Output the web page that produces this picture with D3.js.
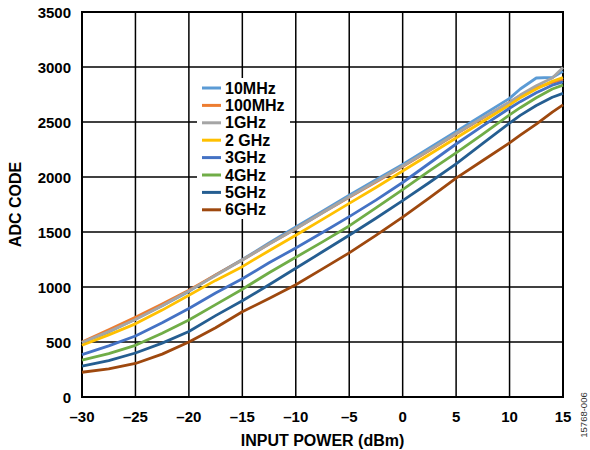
<!DOCTYPE html>
<html lang="en">
<head>
<meta charset="UTF-8">
<title>ADC code vs input power</title>
<style>
body { margin: 0; background: #fff; }
text { font-family: 'Liberation Sans', Arial, sans-serif; }
.tick-label { font-size: 15px; font-weight: 700; fill: #000; }
.axis-title { font-size: 16px; font-weight: 700; fill: #000; }
.legend-label { font-size: 16px; font-weight: 700; fill: #000; }
</style>
</head>
<body>
<div id="vis"></div>
<script src="https://d3js.org/d3.v7.min.js"></script>
<script>
const width = 590;
const height = 450;
const margin = {left: 82, right: 27, top: 12, bottom: 53};

// input power (dBm), shared by every series
const power = [-30, -27.5, -25, -22.5, -20, -17.5, -15, -12.5, -10, -7.5, -5, -2.5, 0, 2.5, 5, 7.5, 10, 11, 12.5, 14, 15];

const names = ["10MHz", "100MHz", "1GHz", "2 GHz", "3GHz", "4GHz", "5GHz", "6GHz"];
const colors = ["#5b9bd5", "#ed7d31", "#a5a5a5", "#ffc000", "#4472c4", "#70ad47", "#255e91", "#9e480e"];

const f10MHz  = [495, 590, 710, 830, 960, 1110, 1250, 1400, 1545, 1690, 1835, 1975, 2115, 2265, 2415, 2565, 2715, 2800, 2900, 2905, 2960];
const f100MHz = [500, 610, 725, 845, 970, 1110, 1245, 1390, 1530, 1675, 1815, 1955, 2095, 2240, 2390, 2535, 2680, 2740, 2810, 2860, 2885];
const f1GHz   = [495, 595, 705, 830, 965, 1105, 1245, 1390, 1530, 1675, 1820, 1960, 2100, 2245, 2395, 2540, 2680, 2745, 2830, 2900, 2995];
const f2GHz   = [470, 565, 665, 790, 925, 1060, 1185, 1330, 1470, 1615, 1760, 1905, 2055, 2205, 2355, 2505, 2655, 2720, 2800, 2870, 2905];
const f3GHz   = [385, 465, 555, 675, 805, 945, 1075, 1220, 1355, 1495, 1640, 1790, 1950, 2125, 2300, 2465, 2625, 2685, 2765, 2835, 2865];
const f4GHz   = [335, 395, 470, 580, 700, 840, 980, 1130, 1270, 1410, 1555, 1720, 1885, 2055, 2220, 2390, 2565, 2630, 2720, 2800, 2835];
const f5GHz   = [280, 330, 400, 490, 595, 740, 875, 1020, 1170, 1320, 1470, 1625, 1785, 1950, 2120, 2305, 2490, 2560, 2650, 2725, 2760];
const f6GHz   = [225, 255, 305, 390, 500, 630, 775, 895, 1020, 1165, 1310, 1470, 1635, 1810, 1990, 2150, 2310, 2380, 2480, 2590, 2655];

const series = [f10MHz, f100MHz, f1GHz, f2GHz, f3GHz, f4GHz, f5GHz, f6GHz];

const xTicks = [-30, -25, -20, -15, -10, -5, 0, 5, 10, 15];
const yTicks = [0, 500, 1000, 1500, 2000, 2500, 3000, 3500];

let svg = d3.select("#vis").append("svg")
    .attr("width", width)
    .attr("height", height);

let xScale = d3.scaleLinear()
    .domain([-30, 15])
    .range([margin.left, width - margin.right]);
let yScale = d3.scaleLinear()
    .domain([0, 3500])
    .range([height - margin.bottom, margin.top]);

// grid
svg.append("g")
  .selectAll("line")
  .data(xTicks)
  .enter().append("line")
    .attr("x1", d => xScale(d)).attr("x2", d => xScale(d))
    .attr("y1", yScale(0)).attr("y2", yScale(3500))
    .attr("stroke", "#000").attr("stroke-width", 1.5);

svg.append("g")
  .selectAll("line")
  .data(yTicks)
  .enter().append("line")
    .attr("x1", xScale(-30)).attr("x2", xScale(15))
    .attr("y1", d => yScale(d)).attr("y2", d => yScale(d))
    .attr("stroke", "#000").attr("stroke-width", 1.5);

// frame
svg.append("rect")
    .attr("x", xScale(-30)).attr("y", yScale(3500))
    .attr("width", xScale(15) - xScale(-30))
    .attr("height", yScale(0) - yScale(3500))
    .attr("fill", "none").attr("stroke", "#000").attr("stroke-width", 2);

// tick labels
svg.append("g")
  .selectAll("text")
  .data(xTicks)
  .enter().append("text")
    .attr("class", "tick-label")
    .attr("x", d => xScale(d))
    .attr("y", yScale(0) + 25)
    .attr("text-anchor", "middle")
    .text(d => d < 0 ? "\u2013" + Math.abs(d) : d);

svg.append("g")
  .selectAll("text")
  .data(yTicks)
  .enter().append("text")
    .attr("class", "tick-label")
    .attr("x", xScale(-30) - 11)
    .attr("y", d => yScale(d) + 5.5)
    .attr("text-anchor", "end")
    .text(d => d);

// axis titles
svg.append("text")
    .attr("class", "axis-title")
    .attr("x", (xScale(-30) + xScale(15)) / 2)
    .attr("y", 446)
    .attr("text-anchor", "middle")
    .text("INPUT POWER (dBm)");

svg.append("text")
    .attr("class", "axis-title")
    .attr("transform", "translate(21," + ((yScale(0) + yScale(3500)) / 2) + ") rotate(-90)")
    .attr("text-anchor", "middle")
    .text("ADC CODE");

svg.append("text")
    .attr("transform", "translate(587,415) rotate(-90)")
    .attr("text-anchor", "middle")
    .style("font-size", "9.5px")
    .style("fill", "#333")
    .text("15768-006");

// legend box (covers the grid)
const legendX = 197, legendY = 78, rowH = 17.4;
svg.append("rect")
    .attr("x", legendX).attr("y", legendY)
    .attr("width", 93).attr("height", 141)
    .attr("fill", "#fff");

// curves
let line = d3.line()
    .x((d, i) => xScale(power[i]))
    .y(d => yScale(d));

svg.append("g")
  .selectAll("path")
  .data(series)
  .enter().append("path")
    .attr("d", d => line(d))
    .attr("fill", "none")
    .attr("stroke", (d, i) => colors[i])
    .attr("stroke-width", 2.8)
    .attr("stroke-linejoin", "round");

let legend = svg.append("g")
  .selectAll("g")
  .data(names)
  .enter().append("g")
    .attr("transform", (d, i) => "translate(" + legendX + "," + (legendY + 10 + i * rowH) + ")");

legend.append("line")
    .attr("x1", 5).attr("x2", 24)
    .attr("y1", 0).attr("y2", 0)
    .attr("stroke", (d, i) => colors[i])
    .attr("stroke-width", 3);

legend.append("text")
    .attr("class", "legend-label")
    .attr("x", 28)
    .attr("y", 5.5)
    .text(d => d);
</script>
</body>
</html>
